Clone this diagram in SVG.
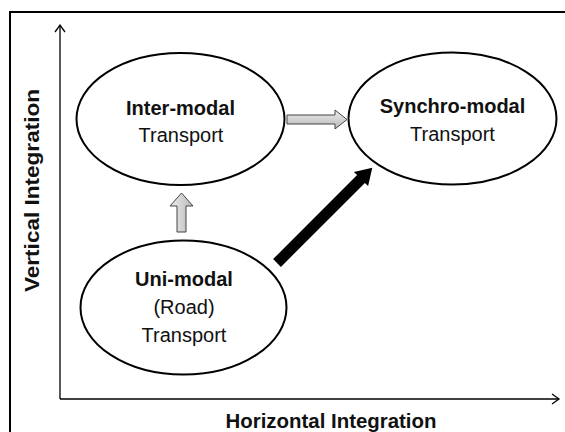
<svg xmlns="http://www.w3.org/2000/svg" width="565" height="432" viewBox="0 0 565 432">
<defs>
<style>
.frame{fill:none;stroke:#000;stroke-width:2}
.axis{fill:none;stroke:#000;stroke-width:1.3}
.node{fill:#fff;stroke:#000;stroke-width:2}
.t{font-family:"Liberation Sans",Arial,sans-serif;font-size:20px;fill:#111;text-anchor:middle}
.b{font-weight:bold}
.gray{stroke:#444;stroke-width:1}
</style>
<linearGradient id="gh" x1="0" y1="0" x2="0" y2="1">
<stop offset="0" stop-color="#ededed"/><stop offset="1" stop-color="#b8b8b8"/>
</linearGradient>
<linearGradient id="gv" x1="0" y1="0" x2="1" y2="0">
<stop offset="0" stop-color="#ededed"/><stop offset="1" stop-color="#b8b8b8"/>
</linearGradient>
<marker id="ah" markerWidth="12" markerHeight="12" refX="9" refY="6" orient="auto" markerUnits="userSpaceOnUse">
<path d="M2,1 L9,6 L2,11" fill="none" stroke="#000" stroke-width="1.3"/>
</marker>
</defs>
<rect width="565" height="432" fill="#fff"/>
<rect class="frame" x="10" y="12" width="600" height="460"/>
<g id="axes">
<line class="axis" x1="60" y1="399" x2="60" y2="25" marker-end="url(#ah)"/>
<line class="axis" x1="60" y1="399" x2="559" y2="399" marker-end="url(#ah)"/>
<text class="t b" transform="translate(39,190.5) rotate(-90)" textLength="203" lengthAdjust="spacingAndGlyphs">Vertical Integration</text>
<text class="t b" x="331" y="428" textLength="211" lengthAdjust="spacingAndGlyphs">Horizontal Integration</text>
</g>
<g id="connectors">
<path class="gray" fill="url(#gh)" d="M287,115 L335,115 L335,110 L347,119.5 L335,129 L335,124 L287,124 Z"/>
<path class="gray" fill="url(#gv)" d="M177,232 L177,206 L170,206 L181.5,193 L193,206 L186,206 L186,232 Z"/>
<path fill="#000" d="M273.1,259.1 L357.1,175.1 L353.9,171.9 L372.3,167.7 L368.1,186.1 L364.9,182.9 L280.9,266.9 Z"/>
</g>
<g id="inter">
<ellipse class="node" cx="180.5" cy="119" rx="104" ry="66"/>
<text class="t b" x="180.5" y="115">Inter-modal</text>
<text class="t" x="181" y="142">Transport</text>
</g>
<g id="synchro">
<ellipse class="node" cx="452.5" cy="118.5" rx="104" ry="66"/>
<text class="t b" x="452.5" y="113">Synchro-modal</text>
<text class="t" x="452.5" y="141">Transport</text>
</g>
<g id="uni">
<ellipse class="node" cx="183.5" cy="307.5" rx="103" ry="67"/>
<text class="t b" x="184" y="286">Uni-modal</text>
<text class="t" x="184" y="314">(Road)</text>
<text class="t" x="184" y="342">Transport</text>
</g>
</svg>
